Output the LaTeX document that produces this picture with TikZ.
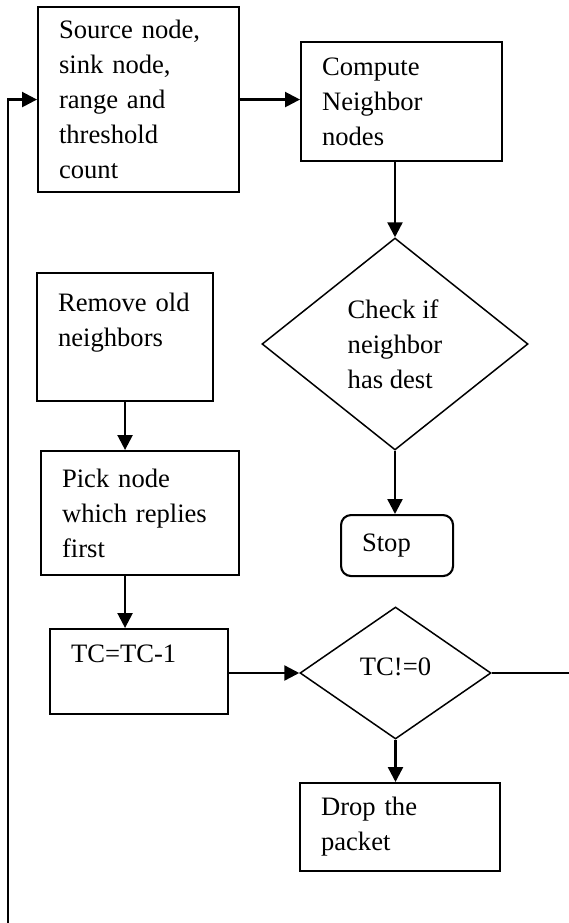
\documentclass[tikz,border=0pt]{standalone}
\usepackage{fontspec}
\setmainfont{Liberation Serif}
\usetikzlibrary{shapes.geometric,arrows.meta}
\tikzset{
  txt/.style={font=\fontsize{26.6}{35}\selectfont},
  procbox/.style={txt,draw,line width=2.1pt,anchor=north west,inner xsep=21pt,inner ysep=0pt,align=left},
  decision/.style={txt,draw,diamond,line width=1.5pt,inner sep=0pt,align=left},
  flow/.style={line width=2.4pt,-{Triangle[length=15pt,width=15pt]}},
  plain/.style={line width=1.8pt}
}
\begin{document}
\begin{tikzpicture}[x=1pt,y=-1pt]
\useasboundingbox (0,0) rectangle (569,923);
\node[procbox,text width=159pt,minimum height=185pt] (src) at (37,6)
  {Source node,\\sink node,\\range and\\threshold\\count};
\node[procbox,text width=159pt,minimum height=119pt] (cmp) at (300,41)
  {Compute\\Neighbor\\nodes};
\node[decision,minimum width=266pt,minimum height=212pt] (chk) at (395,344)
  {Check if\\neighbor\\has dest};
\node[procbox,rounded corners=10pt,text width=70pt,minimum height=61pt] (stop) at (340,514)
  {Stop};
\node[procbox,text width=134pt,minimum height=128pt] (rem) at (36,272)
  {Remove old\\neighbors\\\mbox{}};
\node[procbox,text width=156pt,minimum height=124pt] (pick) at (40,450)
  {Pick node\\which replies\\first};
\node[procbox,text width=136pt,minimum height=85pt] (tc) at (49,628)
  {TC=TC-1\\\mbox{}};
\node[decision,minimum width=191pt,minimum height=132pt] (tcz) at (395.5,673)
  {\raisebox{12pt}{TC!=0}};
\node[procbox,text width=158pt,minimum height=88pt] (drop) at (299,782)
  {Drop the\\packet};
\coordinate (loopend) at (8,923);
\coordinate (rightend) at (569,673);
\draw[flow] (loopend) |- (src.west);
\draw[flow] (src.east) -- (cmp.west |- src.east);
\draw[flow] (chk.north |- cmp.south) -- (chk.north);
\draw[flow] (chk.south) -- (chk.south |- stop.north);
\draw[flow] (rem.south) -- (rem.south |- pick.north);
\draw[flow] (pick.south -| rem.south) -- (tc.north -| rem.south);
\draw[flow] ([xshift=-2pt]tcz.west -| tc.east) -- (tcz.west);
\draw[plain] (tcz.east) -- (rightend);
\draw[flow] (tcz.south) -- (tcz.south |- drop.north);
\end{tikzpicture}
\end{document}
